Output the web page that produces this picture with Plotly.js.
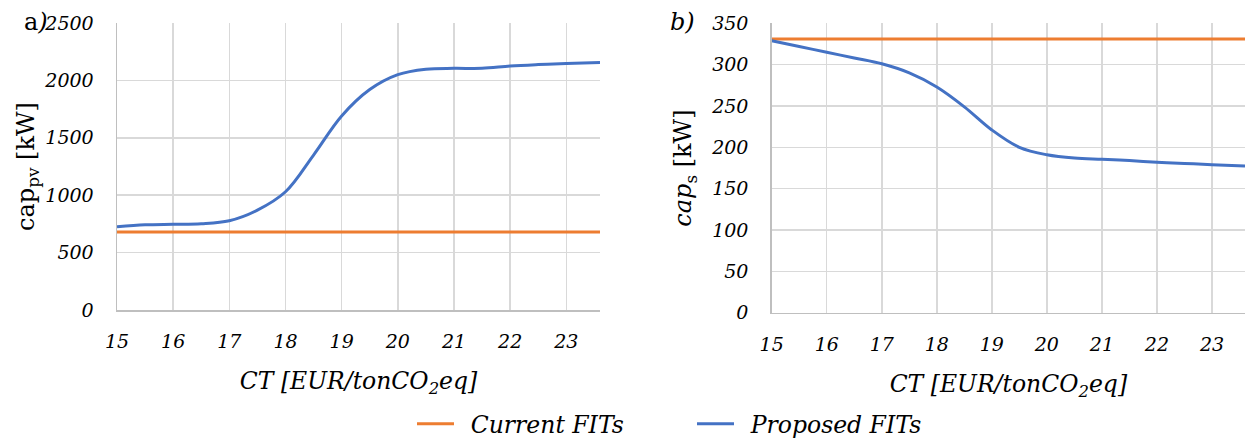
<!DOCTYPE html>
<html>
<head>
<meta charset="utf-8">
<script src="https://cdn.plot.ly/plotly-3.0.1.min.js"></script>
<style>html,body{margin:0;padding:0;background:#fff;}#chart{width:1245px;height:439px;}</style>
</head>
<body>
<div id="chart"></div>
<script>
const ct = [15, 15.5, 16, 16.5, 17, 17.5, 18, 18.5, 19, 19.5, 20, 20.5, 21, 21.5, 22, 22.5, 23, 23.6];
const pvCurrent = [680, 680, 680, 680, 680, 680, 680, 680, 680, 680, 680, 680, 680, 680, 680, 680, 680, 680];
const pvProposed = [725, 742, 747, 752, 778, 870, 1030, 1350, 1690, 1920, 2050, 2098, 2105, 2105, 2125, 2138, 2148, 2157];
const sCurrent = [331, 331, 331, 331, 331, 331, 331, 331, 331, 331, 331, 331, 331, 331, 331, 331, 331, 331];
const sProposed = [329, 322, 315, 308, 301, 290, 273, 249, 221, 200, 191, 187, 185.5, 184, 182, 180.5, 179, 177.5];
const xTicks = [15, 16, 17, 18, 19, 20, 21, 22, 23];
const pvTicks = [0, 500, 1000, 1500, 2000, 2500];
const sTicks = [0, 50, 100, 150, 200, 250, 300, 350];
const seriesNames = ["Current FITs", "Proposed FITs"];

const ORANGE = "#ED7D31", BLUE = "#4472C4";
const FAM = "DejaVu Serif";
const TICKF = {family: FAM, size: 19, color: "#000", style: "italic"};
const TITLEF = {family: FAM, size: 23.5, color: "#000", style: "italic"};
const YTF = {family: FAM, size: 24, color: "#000", style: "normal"};
const LEGF = {family: FAM, size: 23.5, color: "#000", style: "italic"};
const SP = "\u2002";

const traces = [
  {x: ct, y: pvCurrent, name: SP + seriesNames[0], mode: "lines", line: {color: ORANGE, width: 3, shape: "spline"}, xaxis: "x", yaxis: "y"},
  {x: ct, y: pvProposed, name: SP + seriesNames[1], mode: "lines", line: {color: BLUE, width: 3, shape: "spline"}, xaxis: "x", yaxis: "y"},
  {x: ct, y: sCurrent, name: seriesNames[0], mode: "lines", line: {color: ORANGE, width: 3, shape: "spline"}, xaxis: "x2", yaxis: "y2", showlegend: false},
  {x: ct, y: sProposed, name: seriesNames[1], mode: "lines", line: {color: BLUE, width: 3, shape: "spline"}, xaxis: "x2", yaxis: "y2", showlegend: false}
];

const xBase = {
  range: [15, 23.6], tickvals: xTicks, ticktext: xTicks.map(String),
  showgrid: true, gridcolor: "#d9d9d9", gridwidth: 1.5,
  showline: true, linecolor: "#bfbfbf", linewidth: 1.5,
  ticks: "outside", ticklen: 14, tickcolor: "rgba(0,0,0,0)",
  zeroline: false, tickfont: TICKF,
  title: {text: "CT [EUR/tonCO<sub>2</sub>eq]", font: TITLEF, standoff: 21}
};
const yBase = {
  showgrid: true, gridcolor: "#d9d9d9", gridwidth: 1.5,
  showline: true, linecolor: "#bfbfbf", linewidth: 1.5,
  ticks: "outside", ticklen: 18, tickcolor: "rgba(0,0,0,0)",
  zeroline: false, tickfont: TICKF
};

const layout = {
  width: 1245, height: 439,
  margin: {l: 0, r: 0, t: 0, b: 0, autoexpand: false},
  paper_bgcolor: "#fff", plot_bgcolor: "#fff",
  font: TICKF,
  showlegend: true,
  legend: {orientation: "h", x: 412/1245, xanchor: "left", y: (439-424)/439, yanchor: "middle", font: LEGF, traceorder: "normal", itemwidth: 37, entrywidth: 228},
  xaxis: Object.assign({}, xBase, {domain: [117/1245, 600/1245], anchor: "y"}),
  yaxis: Object.assign({}, yBase, {domain: [(439-310)/439, (439-23)/439], anchor: "x", range: [0, 2500],
    tickvals: pvTicks, ticktext: pvTicks.map(String),
    title: {text: "cap<sub>pv</sub> [kW]", font: YTF, standoff: 3}}),
  xaxis2: Object.assign({}, xBase, {domain: [771.7/1245, 1], anchor: "y2"}),
  yaxis2: Object.assign({}, yBase, {domain: [(439-312.7)/439, (439-23.3)/439], anchor: "x2", range: [0, 350],
    tickvals: sTicks, ticktext: sTicks.map(String),
    title: {text: "<i>cap</i><sub>s</sub> [kW]", font: YTF, standoff: 12}}),
  annotations: [
    {text: "a<i>)</i>", x: 22/1245, y: (439-22)/439, xref: "paper", yref: "paper", xanchor: "left", yanchor: "middle", showarrow: false, font: YTF},
    {text: "<i>b)</i>", x: 668/1245, y: (439-22)/439, xref: "paper", yref: "paper", xanchor: "left", yanchor: "middle", showarrow: false, font: YTF}
  ]
};

Plotly.newPlot("chart", traces, layout, {staticPlot: true, displayModeBar: false});
</script>
</body>
</html>
